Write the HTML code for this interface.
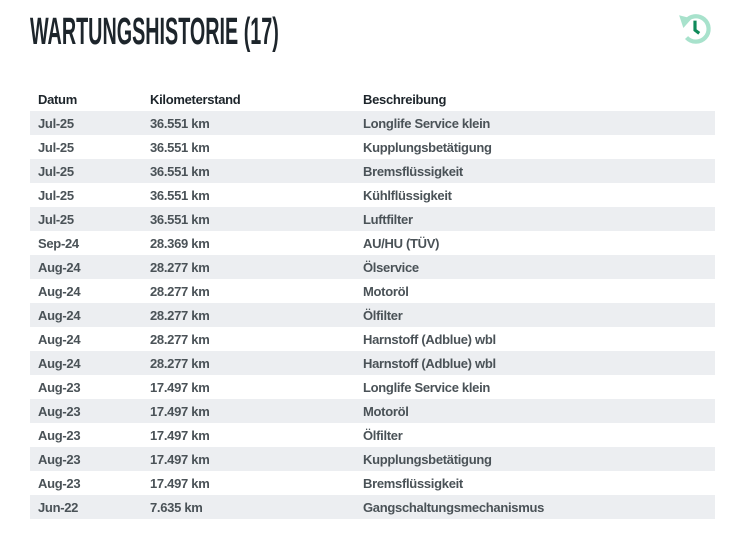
<!DOCTYPE html>
<html><head><meta charset="utf-8"><style>
body{margin:0;width:747px;height:533px;background:#fff;font-family:"Liberation Sans",sans-serif;overflow:hidden;position:relative}
h1{position:absolute;left:30px;top:11px;margin:0;font-size:38px;font-weight:bold;color:#1d252b;transform:scaleX(0.52);transform-origin:0 0;white-space:nowrap;letter-spacing:0px}
table{position:absolute;left:30px;top:87px;width:685px;border-collapse:collapse;font-size:13px;color:#2b3338;letter-spacing:-0.3px}
td,th{height:24px;padding:0 0 0 8px;text-align:left;white-space:nowrap}
th{font-weight:bold;color:#1d252b}
tbody tr:nth-child(odd){background:#eceef1}
td{font-weight:bold;color:#4a5257}
.c1{width:104px}.c2{width:205px}
</style></head><body>
<h1>WARTUNGSHISTORIE (17)</h1>
<svg style="position:absolute;left:677px;top:10px" width="36" height="36" viewBox="0 0 34 34">
<path d="M8 11 A12 12 0 1 1 9 26" fill="none" stroke="#a8e2cc" stroke-width="4"/>
<polygon points="2,5 14,8 6,17" fill="#a8e2cc"/>
<path d="M17 10 V19 L21 22" fill="none" stroke="#0f8a5a" stroke-width="3"/>
</svg>
<table>
<thead><tr><th class="c1">Datum</th><th class="c2">Kilometerstand</th><th>Beschreibung</th></tr></thead>
<tbody>
<tr><td>Jul-25</td><td>36.551 km</td><td>Longlife Service klein</td></tr>
<tr><td>Jul-25</td><td>36.551 km</td><td>Kupplungsbetätigung</td></tr>
<tr><td>Jul-25</td><td>36.551 km</td><td>Bremsflüssigkeit</td></tr>
<tr><td>Jul-25</td><td>36.551 km</td><td>Kühlflüssigkeit</td></tr>
<tr><td>Jul-25</td><td>36.551 km</td><td>Luftfilter</td></tr>
<tr><td>Sep-24</td><td>28.369 km</td><td>AU/HU (TÜV)</td></tr>
<tr><td>Aug-24</td><td>28.277 km</td><td>Ölservice</td></tr>
<tr><td>Aug-24</td><td>28.277 km</td><td>Motoröl</td></tr>
<tr><td>Aug-24</td><td>28.277 km</td><td>Ölfilter</td></tr>
<tr><td>Aug-24</td><td>28.277 km</td><td>Harnstoff (Adblue) wbl</td></tr>
<tr><td>Aug-24</td><td>28.277 km</td><td>Harnstoff (Adblue) wbl</td></tr>
<tr><td>Aug-23</td><td>17.497 km</td><td>Longlife Service klein</td></tr>
<tr><td>Aug-23</td><td>17.497 km</td><td>Motoröl</td></tr>
<tr><td>Aug-23</td><td>17.497 km</td><td>Ölfilter</td></tr>
<tr><td>Aug-23</td><td>17.497 km</td><td>Kupplungsbetätigung</td></tr>
<tr><td>Aug-23</td><td>17.497 km</td><td>Bremsflüssigkeit</td></tr>
<tr><td>Jun-22</td><td>7.635 km</td><td>Gangschaltungsmechanismus</td></tr>
</tbody></table>
</body></html>
